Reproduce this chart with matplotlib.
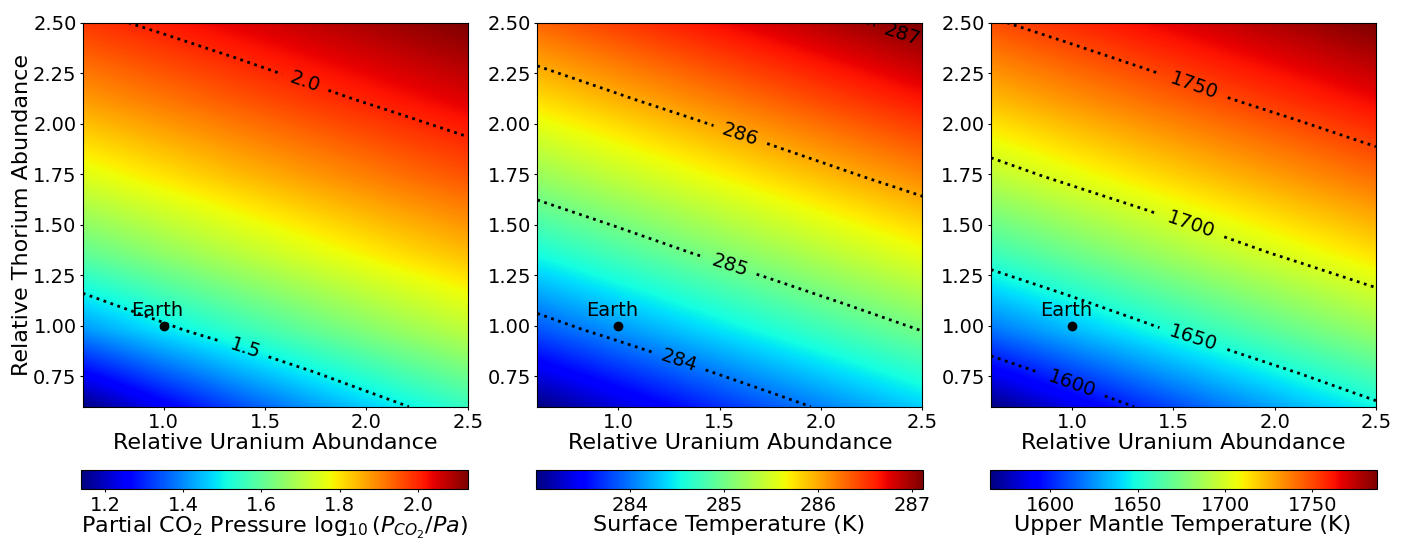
import numpy as np
import matplotlib
matplotlib.use("Agg")
import matplotlib.pyplot as plt

# sample grid (relative abundances) at which the fields were read
uranium = [0.6, 0.98, 1.36, 1.74, 2.12, 2.5]
thorium = [0.6, 0.98, 1.36, 1.74, 2.12, 2.5]

# rows = thorium, columns = uranium
log_pco2 = [
    [1.139, 1.243, 1.333, 1.413, 1.485, 1.549],
    [1.408, 1.480, 1.545, 1.605, 1.660, 1.711],
    [1.601, 1.656, 1.707, 1.755, 1.800, 1.841],
    [1.752, 1.796, 1.839, 1.878, 1.916, 1.951],
    [1.876, 1.913, 1.949, 1.983, 2.015, 2.046],
    [1.981, 2.013, 2.044, 2.074, 2.102, 2.130],
]
surface_temp = [
    [283.003, 283.308, 283.592, 283.860, 284.113, 284.354],
    [283.847, 284.101, 284.343, 284.574, 284.796, 285.009],
    [284.562, 284.785, 284.999, 285.205, 285.405, 285.599],
    [285.195, 285.395, 285.590, 285.778, 285.961, 286.140],
    [285.769, 285.952, 286.131, 286.305, 286.476, 286.642],
    [286.297, 286.467, 286.634, 286.797, 286.957, 287.113],
]
mantle_temp = [
    [1565.3, 1584.9, 1602.5, 1618.6, 1633.4, 1647.2],
    [1617.8, 1632.7, 1646.5, 1659.5, 1671.6, 1683.1],
    [1658.8, 1671.0, 1682.5, 1693.5, 1703.9, 1713.8],
    [1692.9, 1703.4, 1713.3, 1722.8, 1731.9, 1740.7],
    [1722.3, 1731.5, 1740.3, 1748.8, 1756.9, 1764.8],
    [1748.3, 1756.5, 1764.4, 1772.1, 1779.5, 1786.7],
]

co2_levels = [1.5, 2.0]
ts_levels = [284, 285, 286, 287]
tm_levels = [1600, 1650, 1700, 1750]

earth = (1.0, 1.0)

panels = [
    (log_pco2, co2_levels, "%.1f",
     [(1.70, 2.21), (1.40, 0.88)],
     r"Partial CO$_2$ Pressure $\log_{10}(P_{CO_2}/Pa)$"),
    (surface_temp, ts_levels, "%d",
     [(1.30, 0.83), (1.55, 1.30), (1.60, 1.94), (2.40, 2.45)],
     "Surface Temperature (K)"),
    (mantle_temp, tm_levels, "%d",
     [(1.00, 0.72), (1.60, 0.94), (1.59, 1.51), (1.60, 2.18)],
     "Upper Mantle Temperature (K)"),
]

ax_left = [0.0589, 0.3824, 0.7053]

fig = plt.figure(figsize=(14.05, 5.39), dpi=100)
U, TH = np.meshgrid(uranium, thorium)
du = (uranium[1] - uranium[0]) / 2
dt = (thorium[1] - thorium[0]) / 2
ext = [uranium[0] - du, uranium[-1] + du, thorium[0] - dt, thorium[-1] + dt]

for i, (field, levels, fmt, lab_pos, cb_label) in enumerate(panels):
    Z = np.array(field)
    ax = fig.add_axes([ax_left[i], 0.2455, 0.274, 0.7124])
    im = ax.imshow(Z, origin="lower", extent=ext, aspect="auto", cmap="jet",
                   interpolation="bilinear", interpolation_stage="data")
    cs = ax.contour(U, TH, Z, levels=levels, colors="k",
                    linestyles=":", linewidths=2)
    ax.clabel(cs, fmt=fmt, fontsize=14, inline=True, manual=lab_pos)
    ax.plot(*earth, "o", color="k", markersize=6)
    ax.annotate("Earth", earth, xytext=(-4.5, 7), textcoords="offset points",
                ha="center", va="baseline", fontsize=14)
    ax.set_xlim(0.6, 2.5)
    ax.set_ylim(0.6, 2.5)
    ax.tick_params(labelsize=14, length=2.5, pad=2)
    ax.set_xlabel("Relative Uranium Abundance", fontsize=16, labelpad=1)
    if i == 0:
        ax.set_ylabel("Relative Thorium Abundance", fontsize=16, labelpad=1)

    cax = fig.add_axes([ax_left[i] - 0.001, 0.0922, 0.2755, 0.0358])
    cb = fig.colorbar(im, cax=cax, orientation="horizontal")
    cb.ax.tick_params(labelsize=14, length=2.5, pad=2)
    cb.set_label(cb_label, fontsize=16, labelpad=0)

fig.savefig("out.png", dpi=100)
